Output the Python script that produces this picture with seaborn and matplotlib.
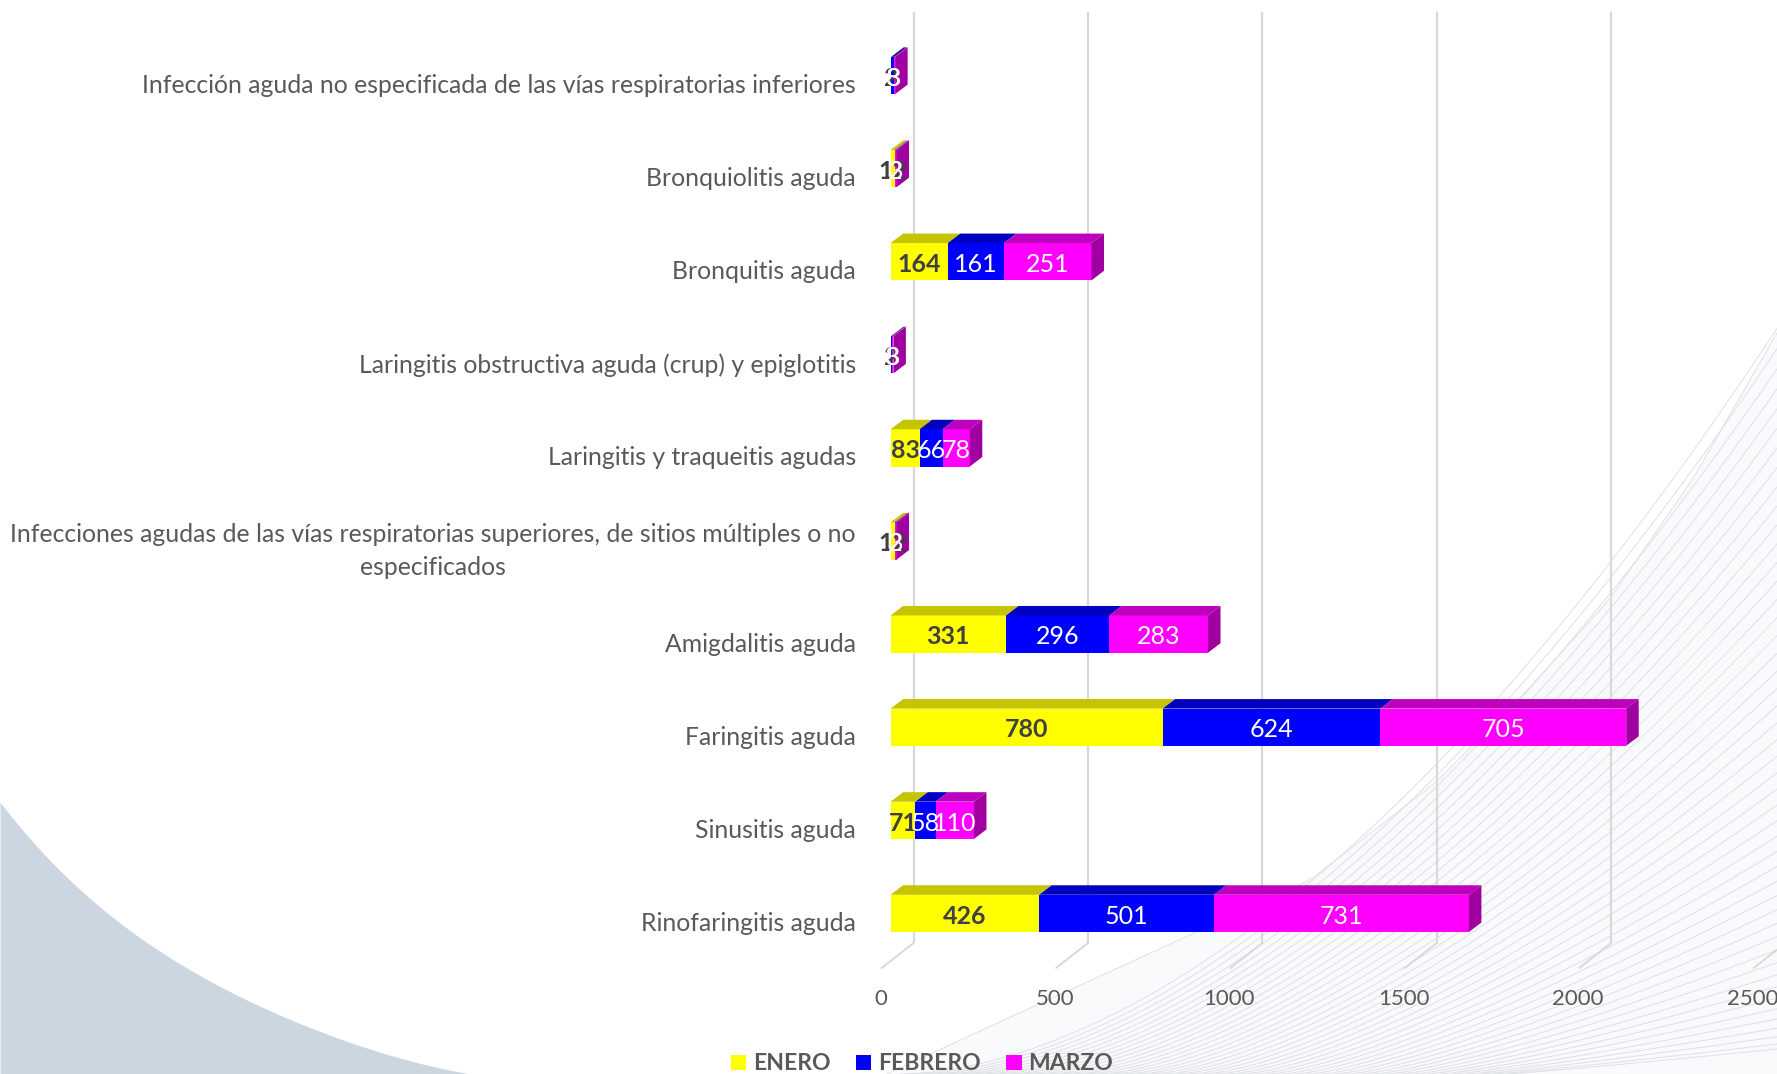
import matplotlib
matplotlib.use("Agg")
import matplotlib.pyplot as plt
import numpy as np
import seaborn as sns
from matplotlib.patches import Polygon
from matplotlib.transforms import Affine2D, IdentityTransform

categories = [
    "Infección aguda no especificada de las vías respiratorias inferiores",
    "Bronquiolitis aguda",
    "Bronquitis aguda",
    "Laringitis obstructiva aguda (crup) y epiglotitis",
    "Laringitis y traqueitis agudas",
    "Infecciones agudas de las vías respiratorias superiores, de sitios múltiples o no\nespecificados",
    "Amigdalitis aguda",
    "Faringitis aguda",
    "Sinusitis aguda",
    "Rinofaringitis aguda",
]
enero = [2, 12, 164, 2, 83, 12, 331, 780, 71, 426]
febrero = [8, 2, 161, 3, 66, 2, 296, 624, 58, 501]
marzo = [3, 3, 251, 3, 78, 3, 283, 705, 110, 731]
x_ticks = [0, 500, 1000, 1500, 2000, 2500]

W, H = 1777, 1074
GREY = "#595959"
DEPTH_X, DEPTH_Y = 12.5, 9.5

sns.set_theme(style="white")
plt.rcParams["font.family"] = ["Lato", "DejaVu Sans"]

fig = plt.figure(figsize=(W / 100, H / 100), dpi=100, facecolor="white")

# page decoration behind the chart, in pixel coords
bg = fig.add_axes([0, 0, 1, 1], zorder=0)
bg.set_xlim(0, W)
bg.set_ylim(H, 0)
bg.axis("off")
blob_x = [0, 77, 153, 230, 306, 383, 470]
blob_y = [802, 887, 947, 990, 1028, 1052, 1074]
edge_x = np.linspace(0, 470, 200)
edge_y = np.polyval(np.polyfit(blob_x, blob_y, 4), edge_x)
bg.fill_between(edge_x, edge_y, H, color="#CBD6E1", lw=0)

# fan of thin curves, bottom right
fan_x = [887, 967, 1310, 1435, 1521, 1609, 1694, 1777]
fan_y = [1074, 1037, 880, 783, 697, 600, 477, 333]
bg.fill_between(fan_x, fan_y, H, color="#F8FAFB", lw=0)
for s in np.linspace(0, 1, 48):
    start = 887 + 620 * s
    rise = 741 * (1 - s) ** 1.3 + 25
    power = 1.8 - 0.7 * s
    u = np.linspace(0, 1, 120)
    cx = start + (W - start) * u
    cy = H - rise * u ** power
    if s == 0:
        cy = np.interp(cx, fan_x, fan_y)
    bg.plot(cx, cy, color="#DFE2E5", lw=0.75)

# main axes: x=0 sits on the front face of the bars
PX_PER_UNIT = 0.3488
ax = fig.add_axes([890.6 / W, 1 - 943 / H, 2500 * PX_PER_UNIT / W, (943 - 12) / H], zorder=1)
ax.patch.set_alpha(0)

cum1 = np.array(enero)
cum2 = cum1 + np.array(febrero)
common = dict(y=categories, orient="h", width=0.4, saturation=1, errorbar=None, legend=False,
              linewidth=0, ax=ax)
sns.barplot(x=enero, color="#FFFF00", label="ENERO", **common)
sns.barplot(x=febrero, left=cum1, color="#0000FF", label="FEBRERO", **common)
sns.barplot(x=marzo, left=cum2, color="#FF00FF", label="MARZO", **common)

ax.set_xlim(0, 2500)
ax.set_ylim(9.318, -0.682)
ax.set_xlabel("")
ax.set_ylabel("")
sns.despine(ax=ax, left=True, bottom=True, right=True, top=True)
fig.canvas.draw()

# back wall gridlines and their floor strokes
for t in x_ticks:
    px = ax.transData.transform((t, 9.318))
    ax.plot([px[0] + 23, px[0] + 23], [px[1], H - 12], transform=IdentityTransform(),
            color="#D9D9D9", lw=1.6, zorder=0.5)
    ax.plot([px[0] + 23, px[0] - 9], [px[1], px[1] - 25], transform=IdentityTransform(),
            color="#D9D9D9", lw=1.4, clip_on=False, zorder=0.5)

# fake 3D: top and end faces come from the drawn bars
top_colors = ["#C4C400", "#0000BE", "#BE00BE"]
for container, top_color in zip(ax.containers, top_colors):
    for bar in container:
        (x0, y0), (x1, y1) = ax.transData.transform(bar.get_bbox().get_points())
        low, high = min(y0, y1), max(y0, y1)
        ax.add_patch(Polygon([(x0, high), (x1, high), (x1 + DEPTH_X, high + DEPTH_Y), (x0 + DEPTH_X, high + DEPTH_Y)],
                             transform=IdentityTransform(), facecolor=top_color, lw=0, zorder=2))
        if top_color == top_colors[-1]:
            ax.add_patch(Polygon([(x1, low), (x1 + DEPTH_X, low + DEPTH_Y), (x1 + DEPTH_X, high + DEPTH_Y), (x1, high)],
                                 transform=IdentityTransform(), facecolor="#A000A0", lw=0, zorder=2))

for container, vals, col, weight in zip(ax.containers, [enero, febrero, marzo],
                                        ["#404040", "white", "white"], ["bold", "normal", "normal"]):
    texts = ax.bar_label(container, labels=[str(v) for v in vals], label_type="center",
                         color=col, fontsize=18, fontweight=weight, zorder=5)
    for t in texts:
        t.xyann = (0, -2)

ax.tick_params(axis="y", length=0, pad=25, labelsize=17.85, labelcolor=GREY)
ax.tick_params(axis="x", length=0, pad=33, labelsize=16, labelcolor=GREY)
ax.set_xticks(x_ticks)
ax.set_xticklabels([str(t) for t in x_ticks])
for lab in ax.get_yticklabels():
    lab.set_multialignment("center")
    lab.set_linespacing(1.5)
    # the two line label sits a bit higher than the others
    drop = -3.5 if "\n" in lab.get_text() else -8
    lab.set_transform(lab.get_transform() + Affine2D().translate(0, drop))
for lab in ax.get_xticklabels():
    lab.set_transform(lab.get_transform() + Affine2D().translate(-10, 0))
    lab.set_clip_on(False)

handles, labels = ax.get_legend_handles_labels()
leg = fig.legend(handles, labels, loc="center", bbox_to_anchor=(922 / W, 1 - 1064 / H), ncols=3, frameon=False,
                 prop={"size": 16.5, "weight": "bold"}, handlelength=0.68, handleheight=0.68,
                 handletextpad=0.3, columnspacing=1.1, borderpad=0)
for txt in leg.get_texts():
    txt.set_color(GREY)

fig.savefig("out.png", dpi=100)
